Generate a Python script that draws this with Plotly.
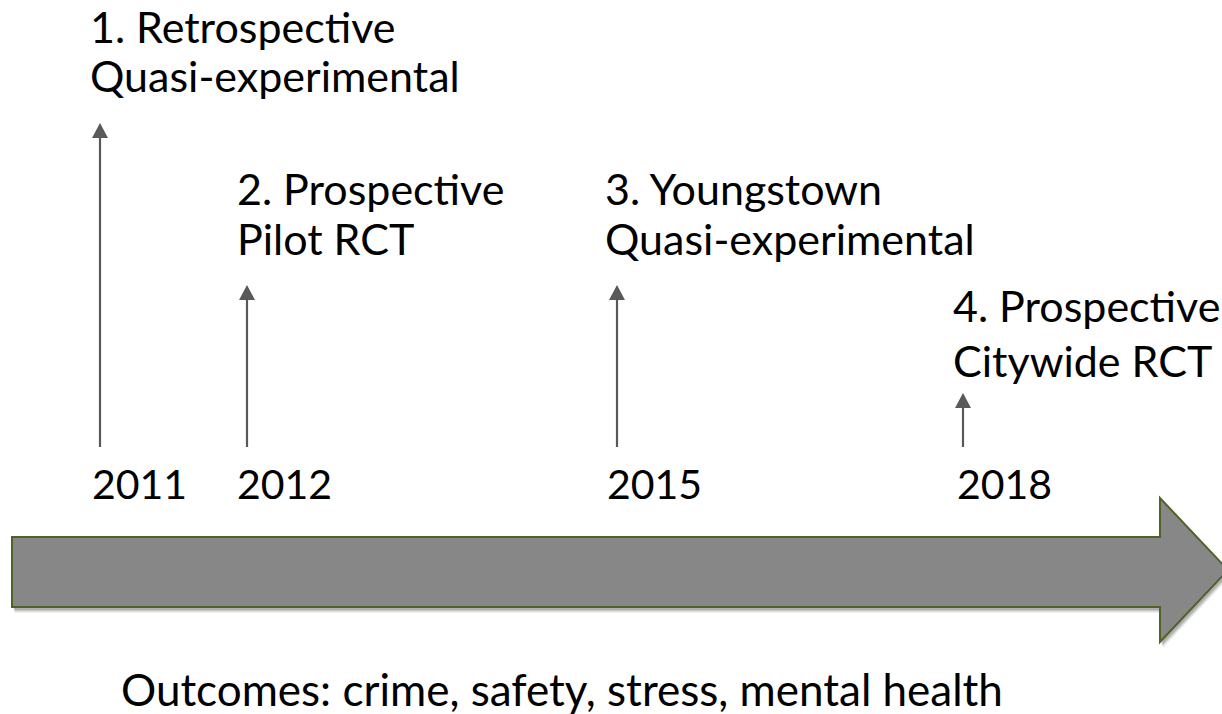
import plotly.graph_objects as go

# ---- data ----
years = ["2011", "2012", "2015", "2018"]
study_line1 = ["1. Retrospective", "2. Prospective", "3. Youngstown", "4. Prospective"]
study_line2 = ["Quasi-experimental", "Pilot RCT", "Quasi-experimental", "Citywide RCT"]
outcomes = "Outcomes: crime, safety, stress, mental health"

# ---- layout constants (pixel coordinates) ----
W, H = 1222, 714
arrow_x = [100, 247, 617, 963]
arrow_tip_y = [123, 285, 285, 393]
arrow_base_y = 447
label_x = [88, 235, 603, 951]
label1_y = [26, 188.5, 188.5, 305.5]
label2_y = [75, 238.5, 238.5, 360.5]
year_x = [90, 235, 605, 955]
year_y = 483
outcome_x, outcome_y = 119, 689

FONT = "Lato, Carlito, Calibri, sans-serif"
FS = 43
FS_YEAR = 41
FS_OUT = 44
ARROW_COLOR = "#595959"

fig = go.Figure()
shapes = []
annotations = []

def big_arrow_path(dx=0, dy=0):
    pts = [(12, 537), (1160, 537), (1160, 498), (1228, 570),
           (1160, 642), (1160, 607), (12, 607)]
    return "M " + " L ".join(f"{x+dx},{y+dy}" for x, y in pts) + " Z"

# soft shadow
for off, op in [(6, 0.06), (5, 0.08), (4, 0.10), (3, 0.12)]:
    shapes.append(dict(type="path", path=big_arrow_path(off * 0.5, off), xref="x", yref="y",
                       fillcolor="rgba(0,0,0,1)", opacity=op, line=dict(width=0), layer="below"))
shapes.append(dict(type="path", path=big_arrow_path(), xref="x", yref="y",
                   fillcolor="#878787", line=dict(color="#4F6228", width=2)))

# vertical arrows
head_len, head_half = 15, 8
for x, tip in zip(arrow_x, arrow_tip_y):
    shapes.append(dict(type="line", x0=x, x1=x, y0=arrow_base_y, y1=tip + head_len - 1,
                       xref="x", yref="y", line=dict(color=ARROW_COLOR, width=2.2)))
    shapes.append(dict(type="path", xref="x", yref="y",
                       path=f"M {x-head_half},{tip+head_len} L {x},{tip} L {x+head_half},{tip+head_len} Z",
                       fillcolor=ARROW_COLOR, line=dict(width=0)))

def txt(x, y, s, size):
    return dict(x=x, y=y, text=s, showarrow=False, xanchor="left", yanchor="middle",
                xref="x", yref="y", font=dict(family=FONT, size=size, color="black"))

for i in range(len(years)):
    annotations.append(txt(label_x[i], label1_y[i], study_line1[i], FS))
    annotations.append(txt(label_x[i], label2_y[i], study_line2[i], FS))
    annotations.append(txt(year_x[i], year_y, years[i], FS_YEAR))

annotations.append(txt(outcome_x, outcome_y, outcomes, FS_OUT))

fig.update_layout(
    width=W, height=H,
    margin=dict(l=0, r=0, t=0, b=0),
    paper_bgcolor="white", plot_bgcolor="white",
    xaxis=dict(range=[0, W], visible=False, fixedrange=True),
    yaxis=dict(range=[H, 0], visible=False, fixedrange=True),
    shapes=shapes, annotations=annotations, showlegend=False,
)
fig.write_html("out.html", config={"displayModeBar": False},
               post_script="document.body.style.margin='0';document.body.style.padding='0';document.body.style.overflow='hidden';")
